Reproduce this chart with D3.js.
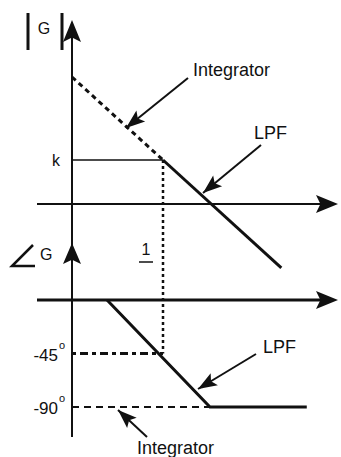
<!DOCTYPE html>
<html>
<head>
<meta charset="utf-8">
<script src="https://cdn.jsdelivr.net/npm/d3@7"></script>
<style>
  body { margin: 0; background: #fff; }
  text { font-family: "Liberation Sans", Arial, sans-serif; fill: #111; }
</style>
</head>
<body>
<div id="chart"></div>
<script>
// Bode sketch: integrator vs low pass filter

// x is log frequency in decades, corner frequency at 1
const kLevel = 0.53; // magnitude of k above the 0 line (decades)
const integratorMag = [[0, 1.53], [1, 0.53]];
const lpfMag = [[1, 0.53], [2.3, -0.77]];
const kLine = [[0, 0.53], [1, 0.53]];

const lpfPhase = [[0.385, 0], [1.516, -90], [2.58, -90]];
const integratorPhase = [[0, -90], [1.516, -90]];
const phase45 = [[0, -45], [1, -45]];
const phaseTicks = [-45, -90];

const width = 341, height = 457;

const svg = d3.select("#chart").append("svg")
  .attr("width", width)
  .attr("height", height);

const x = d3.scaleLinear().domain([0, 1]).range([72, 163]);
const yMag = d3.scaleLinear().domain([0, 1]).range([204, 121]);
const yPh = d3.scaleLinear().domain([0, -90]).range([300, 407]);

const lineMag = d3.line().x(d => x(d[0])).y(d => yMag(d[1]));
const linePh = d3.line().x(d => x(d[0])).y(d => yPh(d[1]));

const ink = "#111";

// triangle arrowhead pointing from (x1,y1) to tip (x2,y2)
function arrowHead(g, x1, y1, x2, y2, len, half) {
  const a = Math.atan2(y2 - y1, x2 - x1);
  const bx = x2 - len * Math.cos(a), by = y2 - len * Math.sin(a);
  const nx = -Math.sin(a) * half, ny = Math.cos(a) * half;
  const mx = x2 - len * 0.8 * Math.cos(a), my = y2 - len * 0.8 * Math.sin(a);
  g.append("path")
    .attr("d", `M${x2},${y2}L${bx + nx},${by + ny}L${mx},${my}L${bx - nx},${by - ny}Z`)
    .attr("fill", ink);
}

function pointer(x1, y1, x2, y2) {
  svg.append("line")
    .attr("x1", x1).attr("y1", y1).attr("x2", x2).attr("y2", y2)
    .attr("stroke", ink).attr("stroke-width", 2);
  arrowHead(svg, x1, y1, x2, y2, 19, 7);
}

// vertical axis shared by both plots
svg.append("line")
  .attr("x1", x(0)).attr("x2", x(0))
  .attr("y1", 24).attr("y2", 437)
  .attr("stroke", ink).attr("stroke-width", 2);
arrowHead(svg, x(0), 60, x(0), 20, 22, 9);
arrowHead(svg, x(0), 290, x(0), 243, 21, 9);

// magnitude axis
svg.append("line")
  .attr("x1", 37).attr("x2", 330)
  .attr("y1", yMag(0)).attr("y2", yMag(0))
  .attr("stroke", ink).attr("stroke-width", 2);
arrowHead(svg, 300, yMag(0), 338, yMag(0), 22, 9);

// phase axis
svg.append("line")
  .attr("x1", 37).attr("x2", 330)
  .attr("y1", yPh(0)).attr("y2", yPh(0))
  .attr("stroke", ink).attr("stroke-width", 3);
arrowHead(svg, 300, yPh(0), 338, yPh(0), 22, 9);

// magnitude curves
svg.append("path").attr("d", lineMag(kLine))
  .attr("fill", "none").attr("stroke", ink).attr("stroke-width", 1.5);
svg.append("path").attr("d", lineMag(integratorMag))
  .attr("fill", "none").attr("stroke", ink).attr("stroke-width", 3)
  .attr("stroke-dasharray", "5,4");
svg.append("path").attr("d", lineMag(lpfMag))
  .attr("fill", "none").attr("stroke", ink).attr("stroke-width", 3);

// corner frequency guide
svg.append("line")
  .attr("x1", x(1)).attr("x2", x(1))
  .attr("y1", yMag(kLevel)).attr("y2", yPh(-45))
  .attr("stroke", ink).attr("stroke-width", 2.5)
  .attr("stroke-dasharray", "3,3");

// phase curves
svg.append("path").attr("d", linePh(phase45))
  .attr("fill", "none").attr("stroke", ink).attr("stroke-width", 3)
  .attr("stroke-dasharray", "4,4,8,4");
svg.append("path").attr("d", linePh(integratorPhase))
  .attr("fill", "none").attr("stroke", ink).attr("stroke-width", 2)
  .attr("stroke-dasharray", "7,5");
svg.append("path").attr("d", linePh(lpfPhase))
  .attr("fill", "none").attr("stroke", ink).attr("stroke-width", 3);

// |G| label
[28, 62].forEach(bx => {
  svg.append("line")
    .attr("x1", bx).attr("x2", bx).attr("y1", 13).attr("y2", 50)
    .attr("stroke", ink).attr("stroke-width", 3);
});
svg.append("text").attr("x", 44).attr("y", 34)
  .attr("text-anchor", "middle").attr("font-size", 16).text("G");

// angle G label
svg.append("path")
  .attr("d", "M33,245L12,266L35,266")
  .attr("fill", "none").attr("stroke", ink).attr("stroke-width", 2.5);
svg.append("text").attr("x", 40).attr("y", 260)
  .attr("font-size", 16).text("G");

// k
svg.append("text").attr("x", 60).attr("y", 166)
  .attr("text-anchor", "end").attr("font-size", 16).text("k");

// 1 with bar
svg.append("text").attr("x", 146).attr("y", 255)
  .attr("text-anchor", "middle").attr("font-size", 16).text("1");
svg.append("line")
  .attr("x1", 139).attr("x2", 153).attr("y1", 262).attr("y2", 262)
  .attr("stroke", ink).attr("stroke-width", 1.5);

// phase tick labels
phaseTicks.forEach(t => {
  svg.append("text").attr("x", 58).attr("y", yPh(t) + 7)
    .attr("text-anchor", "end").attr("font-size", 17).text(t);
  svg.append("text").attr("x", 59).attr("y", yPh(t) - 5)
    .attr("font-size", 11).text("o");
});

// annotations
svg.append("text").attr("x", 193).attr("y", 76).attr("font-size", 18).text("Integrator");
pointer(188, 78, 126, 128);

svg.append("text").attr("x", 254).attr("y", 139).attr("font-size", 18).text("LPF");
pointer(261, 145, 203, 193);

svg.append("text").attr("x", 263).attr("y", 353).attr("font-size", 18).text("LPF");
pointer(256, 354, 198, 389);

svg.append("text").attr("x", 137).attr("y", 454).attr("font-size", 18).text("Integrator");
pointer(147, 437, 118, 410);
</script>
</body>
</html>
